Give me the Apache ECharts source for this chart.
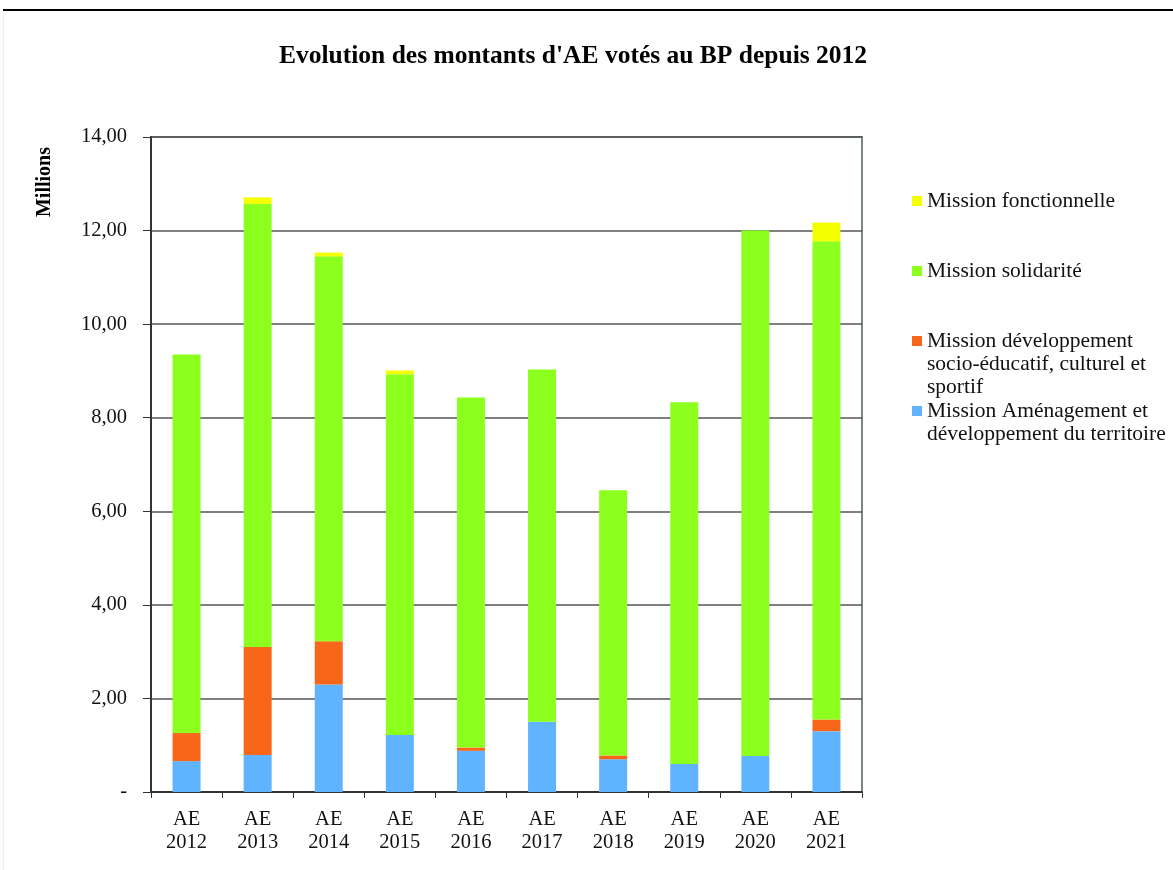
<!DOCTYPE html>
<html>
<head>
<meta charset="utf-8">
<script src="https://cdn.jsdelivr.net/npm/echarts@6/dist/echarts.min.js"></script>
<style>
html,body{margin:0;padding:0;background:#fff;}
#chart{width:1173px;height:870px;}
</style>
</head>
<body>
<div id="chart"></div>
<script>
const categories = ['AE\n2012','AE\n2013','AE\n2014','AE\n2015','AE\n2016','AE\n2017','AE\n2018','AE\n2019','AE\n2020','AE\n2021'];
const amenagement = [0.66, 0.79, 2.30, 1.22, 0.88, 1.50, 0.70, 0.60, 0.77, 1.30];
const socioEducatif = [0.60, 2.31, 0.92, 0, 0.07, 0, 0.08, 0, 0, 0.25];
const solidarite = [8.09, 9.47, 8.23, 7.71, 7.48, 7.53, 5.67, 7.73, 11.23, 10.22];
const fonctionnelle = [0, 0.14, 0.08, 0.08, 0, 0, 0, 0, 0, 0.40];
const yTickLabels = ['-', '2,00', '4,00', '6,00', '8,00', '10,00', '12,00', '14,00'];

const seriesNames = [
  'Mission Aménagement et\ndéveloppement du territoire',
  'Mission développement\nsocio-éducatif, culturel et\nsportif',
  'Mission solidarité',
  'Mission fonctionnelle'
];
const colors = ['#60B4FF', '#F8661A', '#8CFF1E', '#F4FF00'];
const font = '"Liberation Serif", "Times New Roman", serif';

const chart = echarts.init(document.getElementById('chart'), null, {renderer: 'canvas'});

function mkLegend(name, markerY, lines) {
  // text block is centred on the marker: prepend blank lines so the first real line sits on it
  const pre = '\n'.repeat(lines - 1);
  return {
    data: [name],
    left: 912,
    top: markerY - (2 * lines - 1) * 11.5,
    padding: 0,
    orient: 'vertical',
    icon: 'rect',
    itemWidth: 10,
    itemHeight: 10,
    selectedMode: false,
    formatter: function (n) { return pre + n; },
    textStyle: {fontFamily: font, fontSize: 21.5, color: '#111', lineHeight: 23}
  };
}

const option = {
  backgroundColor: '#fff',
  animation: false,
  color: colors,
  title: {
    text: "Evolution des montants d'AE votés au BP depuis 2012",
    left: 568,
    top: 38,
    textAlign: 'center',
    textStyle: {fontFamily: font, fontWeight: 'bold', fontSize: 25.5, color: '#000'}
  },
  legend: [
    mkLegend(seriesNames[3], 201, 1),
    mkLegend(seriesNames[2], 271, 1),
    mkLegend(seriesNames[1], 341, 3),
    mkLegend(seriesNames[0], 411, 2)
  ],
  grid: {
    left: 151, right: 311, top: 137, bottom: 78,
    show: true, borderColor: '#7a8585', borderWidth: 2, backgroundColor: 'transparent'
  },
  xAxis: {
    type: 'category',
    data: categories,
    axisLine: {lineStyle: {color: '#333', width: 2}},
    axisTick: {show: true, length: 6, lineStyle: {color: '#333'}},
    axisLabel: {fontFamily: font, fontSize: 20.5, color: '#111', lineHeight: 23, margin: 16}
  },
  yAxis: {
    type: 'value',
    min: 0, max: 14, interval: 2,
    axisLine: {show: true, lineStyle: {color: '#333', width: 2}},
    axisTick: {show: true, length: 8, lineStyle: {color: '#333'}},
    splitLine: {lineStyle: {color: '#555', width: 1.5}},
    axisLabel: {
      fontFamily: font, fontSize: 20.5, color: '#111', margin: 24,
      formatter: function (v) { return yTickLabels[Math.round(v / 2)]; }
    }
  },
  graphic: [
    {type: 'line', shape: {x1: 3, y1: 10, x2: 1173, y2: 10}, style: {stroke: '#000', lineWidth: 2}},
    {type: 'line', shape: {x1: 3.5, y1: 11, x2: 3.5, y2: 870}, style: {stroke: '#eee', lineWidth: 1}},
    {type: 'text', x: 45, y: 182, rotation: Math.PI / 2,
     style: {text: 'Millions', fontFamily: font, fontWeight: 'bold', fontSize: 20, fill: '#000', align: 'center', verticalAlign: 'middle'}}
  ],
  series: [
    {name: seriesNames[0], type: 'bar', stack: 'ae', data: amenagement, barWidth: 28},
    {name: seriesNames[1], type: 'bar', stack: 'ae', data: socioEducatif, barWidth: 28},
    {name: seriesNames[2], type: 'bar', stack: 'ae', data: solidarite, barWidth: 28},
    {name: seriesNames[3], type: 'bar', stack: 'ae', data: fonctionnelle, barWidth: 28}
  ]
};
chart.setOption(option);
</script>
</body>
</html>
